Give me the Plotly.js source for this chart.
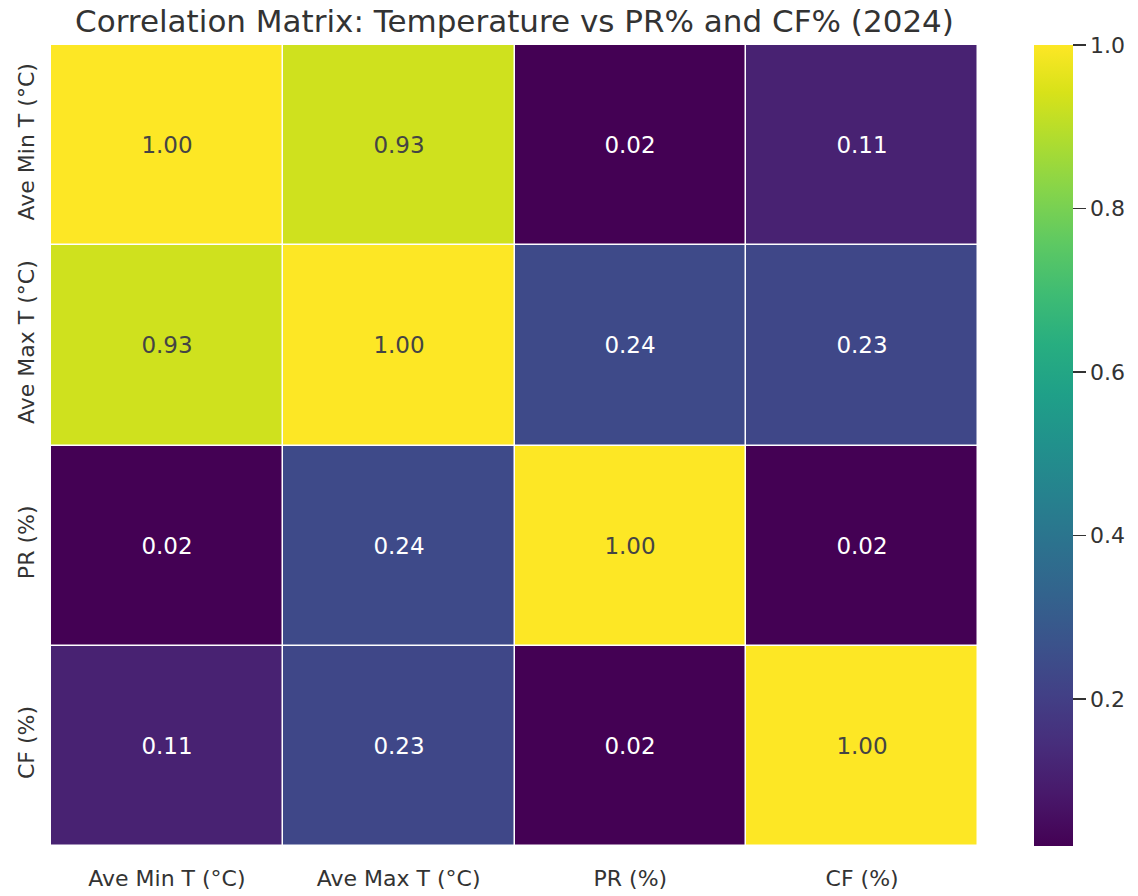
<!DOCTYPE html>
<html>
<head>
<meta charset="utf-8">
<script src="https://cdn.plot.ly/plotly-3.0.1.min.js"></script>
<style>html,body{margin:0;padding:0;background:#fff;}#chart{width:1138px;height:896px;}</style>
</head>
<body>
<div id="chart"></div>
<script>
const categories = ["Ave Min T (°C)", "Ave Max T (°C)", "PR (%)", "CF (%)"];
const rowMinT = [1.00, 0.93, 0.02, 0.11];
const rowMaxT = [0.93, 1.00, 0.24, 0.23];
const rowPR   = [0.02, 0.24, 1.00, 0.02];
const rowCF   = [0.11, 0.23, 0.02, 1.00];
const colorbarTicks = [0.2, 0.4, 0.6, 0.8, 1.0];
const colorbarTickText = ["0.2", "0.4", "0.6", "0.8", "1.0"];
const chartTitle = "Correlation Matrix: Temperature vs PR% and CF% (2024)";

const z = [rowMinT, rowMaxT, rowPR, rowCF];
const txtDark = "#333333";

const trace = {
  type: "heatmap",
  x: categories,
  y: categories,
  z: z,
  colorscale: "Viridis",
  zmin: 0.02,
  zmax: 1.0,
  xgap: 1.5,
  ygap: 1.5,
  texttemplate: "%{z:.2f}",
  textfont: {family: "DejaVu Sans", size: 23},
  hoverongaps: false,
  colorbar: {
    x: 1.0604, xanchor: "left", xref: "paper",
    y: 0.5, yanchor: "middle", len: 1, lenmode: "fraction",
    thickness: 39, thicknessmode: "pixels",
    outlinewidth: 0,
    ticks: "outside", ticklen: 13, tickwidth: 1.5, tickcolor: txtDark,
    tickvals: colorbarTicks, ticktext: colorbarTickText,
    tickfont: {family: "DejaVu Sans", size: 22, color: txtDark},
    xpad: 0, ypad: 0
  }
};

const layout = {
  width: 1138, height: 896,
  margin: {l: 51, r: 160, t: 45, b: 50},
  paper_bgcolor: "#ffffff",
  plot_bgcolor: "#ffffff",
  font: {family: "DejaVu Sans", color: txtDark},
  title: {
    text: chartTitle,
    font: {family: "DejaVu Sans", size: 31, color: txtDark},
    x: 0.5, xref: "paper", xanchor: "center",
    y: 0.976, yref: "container", yanchor: "middle"
  },
  xaxis: {
    type: "category",
    showgrid: false, zeroline: false, showline: false,
    ticks: "", ticklabelstandoff: 17,
    tickfont: {family: "DejaVu Sans", size: 22, color: txtDark}
  },
  yaxis: {
    type: "category",
    autorange: "reversed",
    showgrid: false, zeroline: false, showline: false,
    ticks: "", tickangle: -90, ticklabelstandoff: 12,
    tickfont: {family: "DejaVu Sans", size: 22, color: txtDark}
  }
};

Plotly.newPlot("chart", [trace], layout, {displayModeBar: false, staticPlot: true});
</script>
</body>
</html>
